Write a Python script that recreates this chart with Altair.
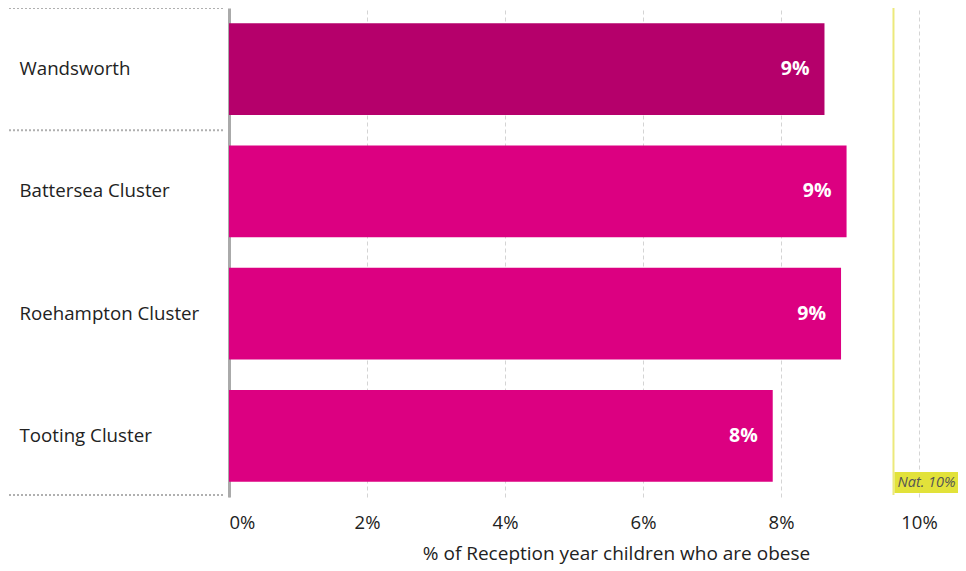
import altair as alt
import pandas as pd

areas = ["Wandsworth", "Battersea Cluster", "Roehampton Cluster", "Tooting Cluster"]
values = [8.63, 8.95, 8.87, 7.88]
colors = ["#b5006b", "#dc0081", "#dc0081", "#dc0081"]
national = 9.63
x_ticks = [0, 2, 4, 6, 8, 10]
x_title = "% of Reception year children who are obese"
group_breaks = [0, 1, 4]  # separators above band index

W = 729
H = 489
LEFT = 221
BOTTOM = 70
FONT = "Open Sans"
STEP = H / len(areas)

df = pd.DataFrame({"area": areas, "value": values, "color": colors})
nat_df = pd.DataFrame({"nat": [national]})

xscale = alt.Scale(domain=[0, 10.565], nice=False, zero=True)
yscale = alt.Scale(domain=areas, paddingInner=0.25, paddingOuter=0.125)

bars = alt.Chart(df).mark_bar().encode(
    x=alt.X(
        "value:Q",
        scale=xscale,
        axis=alt.Axis(
            values=x_ticks,
            labelExpr="datum.value + '%'",
            title=x_title,
            grid=True,
            gridDash=[4, 3],
            gridColor="#d4d4d4",
            gridWidth=1,
            ticks=False,
            domain=False,
            labelFlush=True,
            labelPadding=16,
            labelFontSize=18.5,
            titleFontSize=19,
            titlePadding=13,
            titleX=387,
            titleAlign="center",
            labelColor="#222222",
            titleColor="#222222",
            titleFontWeight="normal",
        ),
    ),
    y=alt.Y(
        "area:N",
        scale=yscale,
        sort=areas,
        axis=alt.Axis(
            title=None,
            labelAlign="left",
            labelPadding=210,
            ticks=False,
            domainColor="#aaaaaa",
            domainWidth=3,
            labelFontSize=18.7,
            labelColor="#222222",
            labelLimit=205,
            grid=False,
        ),
    ),
    color=alt.Color("color:N", scale=None),
)

bar_labels = alt.Chart(df).transform_calculate(
    lbl="format(round(datum.value), 'd') + '%'"
).mark_text(
    align="right", baseline="middle", dx=-15, color="white",
    fontWeight="bold", fontSize=19.5, font=FONT
).encode(
    x=alt.X("value:Q", scale=xscale),
    y=alt.Y("area:N", scale=yscale, sort=areas),
    text="lbl:N",
)

nat_rule = alt.Chart(nat_df).mark_rule(color="#ece97c", strokeWidth=2).encode(
    x=alt.X("nat:Q", scale=xscale),
    y=alt.value(0),
    y2=alt.value(H - 2),
)

nat_box = alt.Chart(nat_df).mark_rect(
    color="#e2e23a", xOffset=1, x2Offset=72
).encode(
    x=alt.X("nat:Q", scale=xscale),
    x2=alt.X2("nat"),
    y=alt.value(H - 25),
    y2=alt.value(H - 4),
)

nat_text = alt.Chart(nat_df).transform_calculate(
    lbl="'Nat. ' + format(round(datum.nat), 'd') + '%'"
).mark_text(
    align="left", baseline="middle", dx=4, fontStyle="italic",
    color="#555555", fontSize=14.5, font=FONT
).encode(
    x=alt.X("nat:Q", scale=xscale),
    y=alt.value(H - 14.5),
    text="lbl:N",
)

seps = []
for b in group_breaks:
    yv = min(b * STEP, H - 2)
    seps.append(
        alt.Chart(nat_df).mark_rule(
            color="#b0b0b0", strokeWidth=2, strokeDash=[2, 2]
        ).encode(
            x=alt.value(-220),
            x2=alt.value(-6),
            y=alt.value(yv),
        )
    )

chart = alt.layer(bars, bar_labels, nat_rule, nat_box, nat_text, *seps).properties(
    width=W,
    height=H,
    autosize=alt.AutoSizeParams(type="none"),
    padding={"left": LEFT, "top": 0, "right": 0, "bottom": BOTTOM},
).configure(font=FONT).configure_view(stroke=None)

chart.save("out.html", embed_options={"renderer": "svg", "actions": False})
